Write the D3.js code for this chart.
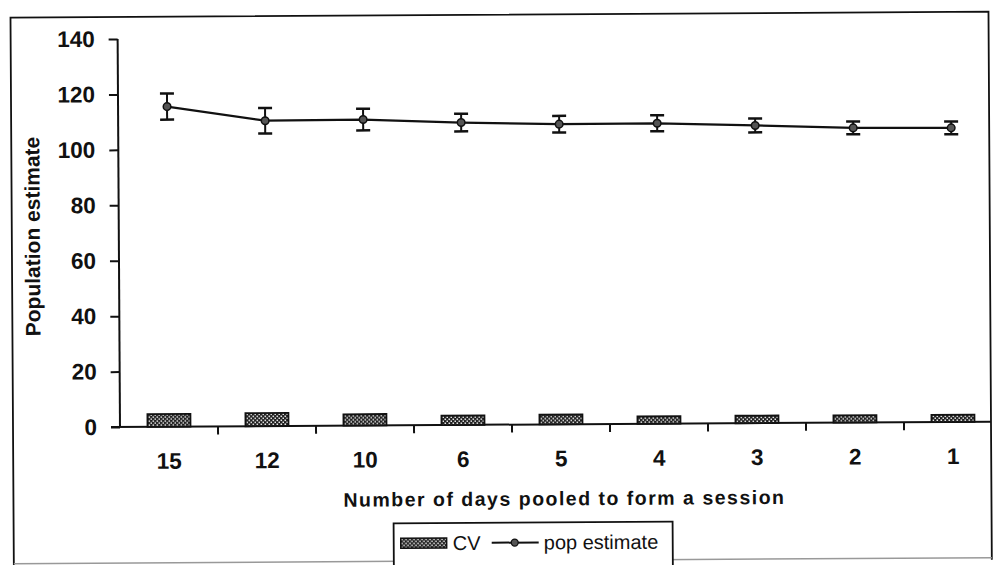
<!DOCTYPE html>
<html>
<head>
<meta charset="utf-8">
<script src="https://cdn.jsdelivr.net/npm/d3@7"></script>
<style>
  body { margin: 0; background: #fff; }
  svg { display: block; font-family: "Liberation Sans", Arial, sans-serif; }
</style>
</head>
<body>
<svg id="chart" width="995" height="565"></svg>
<script>
// data
const days = ["15", "12", "10", "6", "5", "4", "3", "2", "1"];
const cv = [4.6, 4.7, 4.1, 3.4, 3.5, 2.7, 2.7, 2.6, 2.6];
const popEstimate = [115.5, 110.2, 110.4, 109.1, 108.3, 108.4, 107.4, 106.3, 106.1];
const popError = [4.7, 4.6, 3.9, 3.2, 3.0, 2.9, 2.5, 2.3, 2.3];
const yTicks = [0, 20, 40, 60, 80, 100, 120, 140];

const svg = d3.select("#chart");

// hatch pattern for the CV bars
const defs = svg.append("defs");
const pat = defs.append("pattern")
  .attr("id", "hatch")
  .attr("width", 4).attr("height", 4)
  .attr("patternUnits", "userSpaceOnUse");
pat.append("rect").attr("width", 4).attr("height", 4).attr("fill", "#1a1a1a");
pat.append("rect").attr("x", 0.5).attr("y", 0.5).attr("width", 1.6).attr("height", 1.6).attr("fill", "#f0f0f0");
pat.append("rect").attr("x", 2.5).attr("y", 2.5).attr("width", 1.6).attr("height", 1.6).attr("fill", "#f0f0f0");

// the scan is a little tilted, so the whole thing is turned a bit
const root = svg.append("g").attr("transform", "rotate(-0.35,120,427)");

// outer frame
root.append("path")
  .attr("d", "M13,565 L13,17 L991,17 L991,565")
  .attr("fill", "none").attr("stroke", "#111").attr("stroke-width", 1.8);
root.append("line")
  .attr("x1", 13).attr("x2", 991).attr("y1", 563).attr("y2", 563)
  .attr("stroke", "#999").attr("stroke-width", 1.5);

const x = d3.scaleBand().domain(days).range([120, 1002]).paddingInner(0).paddingOuter(0);
const y = d3.scaleLinear().domain([0, 140]).range([427, 39]);

// y axis
const yAxis = root.append("g")
  .attr("transform", "translate(120,0)")
  .call(d3.axisLeft(y).tickValues(yTicks).tickSize(9).tickPadding(14));
yAxis.select(".domain").attr("stroke", "#111").attr("stroke-width", 2)
  .attr("d", "M0,39V427");
yAxis.selectAll(".tick line").attr("stroke", "#111").attr("stroke-width", 2);
yAxis.selectAll(".tick text")
  .attr("font-size", "22.5px").attr("font-weight", "bold").attr("fill", "#111")
  .attr("font-family", "Liberation Sans, Arial, sans-serif");

// x axis line + boundary ticks
root.append("line")
  .attr("x1", 111).attr("x2", 991).attr("y1", y(0)).attr("y2", y(0))
  .attr("stroke", "#111").attr("stroke-width", 2);
root.selectAll(".xtick")
  .data(days.slice(1))
  .enter().append("line")
  .attr("class", "xtick")
  .attr("x1", d => x(d)).attr("x2", d => x(d))
  .attr("y1", y(0)).attr("y2", y(0) + 8)
  .attr("stroke", "#111").attr("stroke-width", 2);

const xAxis = root.append("g")
  .attr("transform", "translate(0," + y(0) + ")")
  .call(d3.axisBottom(x).tickSize(0).tickPadding(26));
xAxis.select(".domain").remove();
xAxis.selectAll(".tick text")
  .attr("font-size", "22.5px").attr("font-weight", "bold").attr("fill", "#111")
  .attr("font-family", "Liberation Sans, Arial, sans-serif");

// CV bars
const barW = 43;
root.selectAll(".bar")
  .data(days)
  .enter().append("rect")
  .attr("class", "bar")
  .attr("x", d => x(d) + x.bandwidth() / 2 - barW / 2)
  .attr("y", (d, i) => y(cv[i]))
  .attr("width", barW)
  .attr("height", (d, i) => y(0) - y(cv[i]))
  .attr("fill", "url(#hatch)")
  .attr("stroke", "#111").attr("stroke-width", 1.8);

// pop estimate line
const cx = d => x(d) + x.bandwidth() / 2;
const line = d3.line()
  .x(d => cx(d))
  .y((d, i) => y(popEstimate[i]));
root.append("path")
  .datum(days)
  .attr("d", line)
  .attr("fill", "none").attr("stroke", "#111").attr("stroke-width", 2.2);

// error bars
const capW = 14;
const eb = root.selectAll(".err").data(days).enter().append("g").attr("class", "err");
eb.append("line")
  .attr("x1", d => cx(d)).attr("x2", d => cx(d))
  .attr("y1", (d, i) => y(popEstimate[i] + popError[i]))
  .attr("y2", (d, i) => y(popEstimate[i] - popError[i]))
  .attr("stroke", "#111").attr("stroke-width", 2);
eb.append("line")
  .attr("x1", d => cx(d) - capW / 2).attr("x2", d => cx(d) + capW / 2)
  .attr("y1", (d, i) => y(popEstimate[i] + popError[i]))
  .attr("y2", (d, i) => y(popEstimate[i] + popError[i]))
  .attr("stroke", "#111").attr("stroke-width", 2.5);
eb.append("line")
  .attr("x1", d => cx(d) - capW / 2).attr("x2", d => cx(d) + capW / 2)
  .attr("y1", (d, i) => y(popEstimate[i] - popError[i]))
  .attr("y2", (d, i) => y(popEstimate[i] - popError[i]))
  .attr("stroke", "#111").attr("stroke-width", 2.5);
eb.append("circle")
  .attr("cx", d => cx(d))
  .attr("cy", (d, i) => y(popEstimate[i]))
  .attr("r", 3.8)
  .attr("fill", "#555").attr("stroke", "#111").attr("stroke-width", 1.5);

// axis titles
root.append("text")
  .attr("transform", "translate(41,236) rotate(-90)")
  .attr("text-anchor", "middle")
  .attr("font-size", "21px").attr("font-weight", "bold").attr("fill", "#111")
  .text("Population estimate");
root.append("text")
  .attr("x", 564).attr("y", 508)
  .attr("text-anchor", "middle")
  .attr("font-size", "19.5px").attr("font-weight", "bold").attr("fill", "#111")
  .attr("letter-spacing", "1.5px")
  .text("Number of days pooled to form a session");

// legend
const lg = root.append("g");
lg.append("rect")
  .attr("x", 393).attr("y", 525).attr("width", 279).attr("height", 60)
  .attr("fill", "#fff").attr("stroke", "#111").attr("stroke-width", 1.8);
lg.append("rect")
  .attr("x", 400).attr("y", 540).attr("width", 46).attr("height", 10)
  .attr("fill", "url(#hatch)").attr("stroke", "#111").attr("stroke-width", 1.4);
lg.append("text")
  .attr("x", 452).attr("y", 552)
  .attr("font-size", "20px").attr("fill", "#111")
  .text("CV");
lg.append("line")
  .attr("x1", 491).attr("x2", 538).attr("y1", 545).attr("y2", 545)
  .attr("stroke", "#111").attr("stroke-width", 2);
lg.append("circle")
  .attr("cx", 514).attr("cy", 545).attr("r", 3.5)
  .attr("fill", "#555").attr("stroke", "#111").attr("stroke-width", 1.3);
lg.append("text")
  .attr("x", 543).attr("y", 552)
  .attr("font-size", "20px").attr("fill", "#111")
  .text("pop estimate");
</script>
</body>
</html>
